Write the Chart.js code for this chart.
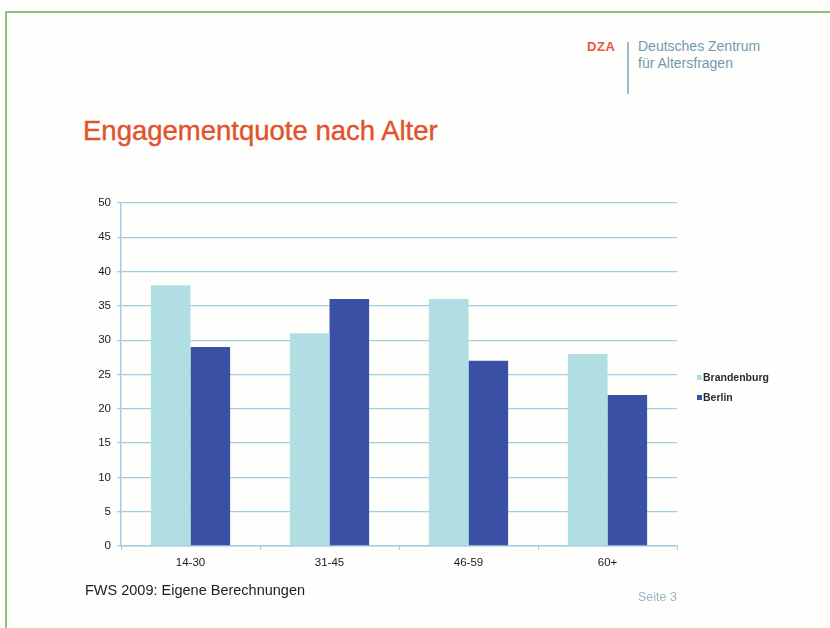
<!DOCTYPE html>
<html>
<head>
<meta charset="utf-8">
<script src="https://cdn.jsdelivr.net/npm/chart.js@4.4.0/dist/chart.umd.min.js"></script>
<style>
  body { margin: 0; width: 830px; height: 628px; overflow: hidden; background: #fefefc; font-family: "Liberation Sans", Arial, sans-serif; }
  #frame { position: absolute; left: 5px; top: 11px; width: 900px; height: 700px; border: 2px solid #8fc07c; }
  #myChart { position: absolute; left: 0; top: 0; }
  .txt { position: absolute; white-space: nowrap; }
  #title { left: 83px; top: 115px; font-size: 27.5px; color: #e0532d; -webkit-text-stroke: 0.4px #e0532d; }
  #dza { left: 587px; top: 39px; font-size: 13px; font-weight: bold; color: #e05a3a; letter-spacing: 0.6px; }
  #vline { position: absolute; left: 627px; top: 42px; width: 1.5px; height: 52px; background: #9dbdcd; }
  #org { left: 638px; top: 38px; font-size: 14px; line-height: 17px; color: #7598ae; }
  #source { left: 85px; top: 582px; font-size: 14.5px; color: #1e1e1e; }
  #page { left: 638px; top: 590px; font-size: 12.5px; color: #9cb6c6; }
</style>
</head>
<body>
<div id="frame"></div>
<div class="txt" id="dza">DZA</div>
<div id="vline"></div>
<div class="txt" id="org">Deutsches Zentrum<br>für Altersfragen</div>
<div class="txt" id="title">Engagementquote nach Alter</div>
<canvas id="myChart" width="830" height="628"></canvas>
<div class="txt" id="source">FWS 2009: Eigene Berechnungen</div>
<div class="txt" id="page">Seite 3</div>
<script>
let ageGroups = ['14-30', '31-45', '46-59', '60+'];
let brandenburg = [38, 31, 36, 28];
let berlin = [29, 36, 27, 22];
let seriesNames = ['Brandenburg', 'Berlin'];

const gridBlue = '#a3cde1';
const tickFont = { family: '"Liberation Sans", Arial, sans-serif', size: 11.5 };

// legend drawn by hand so it sits where the original one is
const sideLegend = {
  id: 'sideLegend',
  afterDraw(chart) {
    const ctx = chart.ctx;
    ctx.save();
    ctx.font = 'bold 10.5px "Liberation Sans", Arial, sans-serif';
    ctx.textBaseline = 'middle';
    chart.data.datasets.forEach((ds, i) => {
      const y = 378 + i * 20;
      ctx.fillStyle = ds.backgroundColor;
      ctx.fillRect(697, y - 3, 5, 5);
      ctx.fillStyle = '#2a2a35';
      ctx.fillText(ds.label, 703, y);
    });
    ctx.restore();
  }
};

function renderChart() {
  const data = {
    labels: ageGroups,
    datasets: [{
      label: seriesNames[0],
      data: brandenburg,
      backgroundColor: '#b0dee3',
      categoryPercentage: 0.57,
      barPercentage: 1.0
    }, {
      label: seriesNames[1],
      data: berlin,
      backgroundColor: '#3a50a4',
      categoryPercentage: 0.57,
      barPercentage: 1.0
    }]
  };

  const options = {
    responsive: false,
    animation: false,
    devicePixelRatio: 1,
    layout: { padding: { left: 80, top: 203, right: 153, bottom: 52 } },
    plugins: { legend: { display: false }, tooltip: { enabled: false } },
    scales: {
      x: {
        afterFit: (s) => { s.height = 30; },
        grid: { offset: true, drawOnChartArea: false, color: gridBlue, tickLength: 4 },
        border: { color: gridBlue, width: 1.5 },
        ticks: { color: '#1a1a1a', padding: 6, font: tickFont }
      },
      y: {
        min: 0,
        max: 50,
        afterFit: (s) => { s.width = 41; },
        grid: { color: gridBlue, lineWidth: 1.3, tickLength: 4 },
        border: { color: gridBlue, width: 1.5 },
        ticks: { stepSize: 5, color: '#1a1a1a', padding: 6, font: tickFont }
      }
    }
  };

  const ctx = document.getElementById('myChart').getContext('2d');
  new Chart(ctx, { type: 'bar', data: data, options: options, plugins: [sideLegend] });
}

renderChart();
</script>
</body>
</html>
